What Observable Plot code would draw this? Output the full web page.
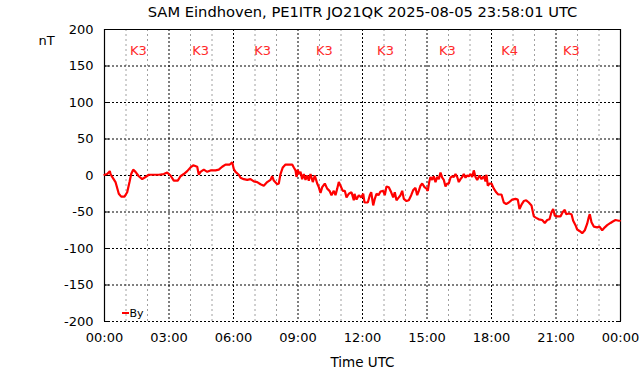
<!DOCTYPE html>
<html><head><meta charset="utf-8">
<script src="https://cdn.jsdelivr.net/npm/d3@7"></script>
<script src="https://cdn.jsdelivr.net/npm/@observablehq/plot@0.6"></script>
<style>html,body{margin:0;padding:0;background:#fff}svg{display:block}</style>
</head><body><div id="chart"></div>
<script>
const title = "SAM Eindhoven, PE1ITR JO21QK 2025-08-05 23:58:01 UTC";
const yLabel = "nT";
const xLabel = "Time UTC";
const seriesName = "By";

// time of day in hours (UTC)
const hours = [0,0.126,0.247,0.279,0.358,0.512,0.665,0.777,0.930,1.056,1.163,1.242,1.335,1.442,1.595,1.753,1.907,2.060,2.293,2.526,2.758,2.916,3.070,3.223,3.409,3.535,3.688,3.847,4.0,4.126,4.312,4.386,4.465,4.619,4.777,4.930,5.163,5.316,5.474,5.628,5.828,5.940,6.014,6.093,6.247,6.326,6.479,6.637,6.791,6.944,7.102,7.256,7.409,7.567,7.721,7.800,7.874,8.033,8.107,8.186,8.293,8.419,8.572,8.730,8.805,8.884,8.930,8.991,9.037,9.116,9.195,9.270,9.349,9.428,9.502,9.581,9.688,9.781,9.893,9.967,10.047,10.126,10.247,10.358,10.465,10.558,10.665,10.744,10.823,10.898,10.977,11.084,11.177,11.256,11.363,11.488,11.595,11.628,11.721,11.828,11.940,12.033,12.093,12.247,12.340,12.405,12.498,12.572,12.651,12.744,12.837,12.963,13.037,13.116,13.223,13.335,13.428,13.502,13.581,13.688,13.767,13.847,13.921,14.047,14.153,14.265,14.358,14.465,14.544,14.619,14.698,14.777,14.884,14.977,15.037,15.102,15.163,15.242,15.316,15.395,15.474,15.549,15.628,15.707,15.781,15.860,15.940,16.014,16.093,16.172,16.247,16.326,16.405,16.479,16.558,16.637,16.712,16.791,16.870,16.944,17.023,17.102,17.177,17.256,17.335,17.442,17.535,17.642,17.721,17.767,17.828,17.907,18.0,18.107,18.219,18.312,18.465,18.572,18.684,18.805,18.963,19.116,19.223,19.302,19.395,19.502,19.614,19.735,19.860,19.967,20.079,20.200,20.358,20.479,20.591,20.698,20.791,20.870,20.944,21.056,21.209,21.316,21.409,21.474,21.595,21.721,21.800,21.907,21.986,22.093,22.219,22.340,22.451,22.526,22.572,22.651,22.758,22.916,23.023,23.149,23.270,23.381,23.535,23.642,23.767,23.921,23.97];
// By component, nT
const by = [1,2,6,2,-2,-9,-25,-29,-29,-23,-9,2,8,5,-1,-5,-2,1,1,1,2,4,0,-7,-7,-1,2,6,11,14,12,1,5,8,5,7,7,8,12,15,15,18,9,5,1,-3,-5,-6,-5,-8,-9,-12,-14,-9,-6,-1,-7,-12,-11,2,11,15,15,15,11,7,-2,8,2,5,-5,2,-6,0,-7,2,-9,0,-11,-16,-24,-16,-11,-18,-21,-27,-21,-27,-18,-9,-14,-21,-21,-30,-25,-23,-34,-25,-33,-27,-30,-25,-37,-37,-27,-23,-41,-32,-25,-27,-22,-21,-27,-15,-16,-23,-30,-23,-34,-30,-27,-21,-32,-35,-34,-27,-20,-17,-27,-21,-14,-11,-16,-18,-21,-9,-2,-6,-1,-9,-2,-5,4,-3,-6,-15,-11,-11,-3,-1,-2,2,-2,-9,-5,-2,2,-3,0,-1,2,-2,7,-2,-6,0,-5,-1,-8,1,-14,-11,-11,-18,-23,-26,-26,-37,-39,-37,-33,-32,-33,-46,-40,-35,-34,-37,-41,-56,-58,-60,-61,-65,-61,-60,-50,-46,-55,-56,-56,-50,-47,-53,-52,-53,-62,-68,-74,-76,-79,-75,-66,-57,-53,-64,-70,-71,-70,-75,-71,-68,-65,-63,-61,-62,-62];

// K-index labels and where they sit along the time axis (hours)
const kHours = [1.58,4.47,7.35,10.23,13.07,15.95,18.84,21.72];
const kLabels = ["K3","K3","K3","K3","K3","K3","K4","K3"];
const xTicks = [0,3,6,9,12,15,18,21,24];
const xTickLabels = ["00:00","03:00","06:00","09:00","12:00","15:00","18:00","21:00","00:00"];
const xMinor = [1,2,4,5,7,8,10,11,13,14,16,17,19,20,22,23];
const yTicks = [-200,-150,-100,-50,0,50,100,150,200];

const data = hours.map((h,i)=>({h, v: by[i]}));
const font = "DejaVu Sans, sans-serif";
const W = 642, H = 376, ML = 104, MR = 22, MT = 29, MB = 55;

const chart = Plot.plot({
  width: W, height: H,
  marginLeft: ML, marginRight: MR, marginTop: MT, marginBottom: MB,
  style: {fontFamily: font, fontSize: "13px", background: "#fff", color: "#000"},
  x: {domain: [0,24], axis: null},
  y: {domain: [-200,200], axis: null},
  marks: [
    Plot.ruleX(xMinor, {x: d=>d, stroke: "#a0a0a0", strokeWidth: 1, strokeDasharray: "2,3", strokeOpacity: 1}),
    Plot.ruleX(xTicks.slice(1,-1), {x: d=>d, stroke: "#000", strokeWidth: 1, strokeDasharray: "2,2", strokeOpacity: 1}),
    Plot.ruleY(yTicks.slice(0,-1), {y: d=>d, stroke: "#000", strokeWidth: 1, strokeDasharray: "2,2", strokeOpacity: 1}),
    Plot.ruleX([0,24], {x: d=>d, stroke: "#000", strokeWidth: 1.2}),
    Plot.ruleY([200], {y: d=>d, stroke: "#000", strokeWidth: 1.2}),
    Plot.axisY({anchor: "left", ticks: yTicks, tickSize: 5, dx: 5, tickFormat: () => "", label: null, stroke: "#000"}),
    Plot.axisY({anchor: "right", ticks: yTicks, tickSize: 5, dx: -5, tickFormat: () => "", label: null, stroke: "#000"}),
    Plot.text(yTicks, {y: d=>d, frameAnchor: "left", text: d=>String(d), textAnchor: "end", dx: -11, fontSize: 13, fill: "#000"}),
    Plot.text(xTicks, {x: d=>d, frameAnchor: "bottom", text: (d,i)=>xTickLabels[i], dy: 16, lineAnchor: "middle", fontSize: 13, fill: "#000"}),
    Plot.text(kHours, {x: d=>d, frameAnchor: "top", text: (d,i)=>kLabels[i], dy: 21, lineAnchor: "middle", fontSize: 13, fill: "#ff2a2a"}),
    Plot.text([title], {frameAnchor: "top", text: d=>d, dy: -17, lineAnchor: "middle", fontSize: 14.7, fill: "#000"}),
    Plot.text([yLabel], {frameAnchor: "top-left", text: d=>d, dx: -58, dy: 11, lineAnchor: "middle", textAnchor: "middle", fontSize: 13, fill: "#000"}),
    Plot.text([xLabel], {frameAnchor: "bottom", text: d=>d, dy: 41, lineAnchor: "middle", fontSize: 13.5, fill: "#000"}),
    Plot.line(data, {x: "h", y: "v", stroke: "#ff0000", strokeWidth: 2.2, strokeLinejoin: "miter", curve: "linear"}),
    Plot.text([seriesName], {frameAnchor: "bottom-left", text: d=>d, dx: 25, dy: -8, lineAnchor: "middle", textAnchor: "start", fontSize: 11, fill: "#000"})
  ]
});
// legend key line (layout element)
d3.select(chart).append("line")
  .attr("x1", ML + 18).attr("x2", ML + 25)
  .attr("y1", H - MB - 8).attr("y2", H - MB - 8)
  .attr("stroke", "#ff0000").attr("stroke-width", 2);
document.getElementById("chart").appendChild(chart);
</script>
</body></html>
